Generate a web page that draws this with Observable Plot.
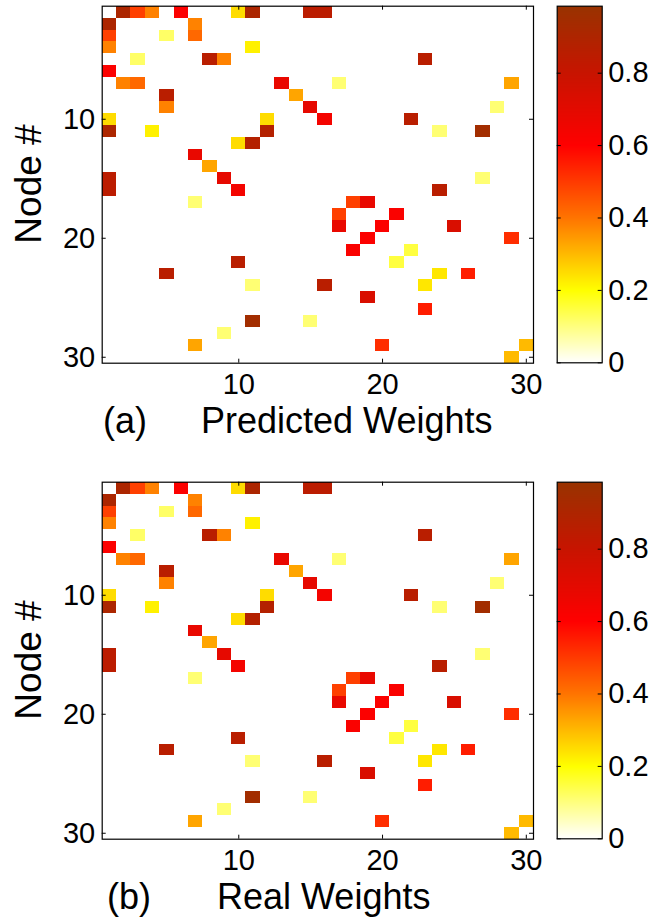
<!DOCTYPE html>
<html>
<head>
<meta charset="utf-8">
<script src="https://cdn.jsdelivr.net/npm/d3@7"></script>
<script src="https://cdn.jsdelivr.net/npm/@observablehq/plot@0.6"></script>
<style>
  body { margin: 0; background: #fff; font-family: "Liberation Sans", Arial, Helvetica, sans-serif; }
  #root { position: relative; width: 657px; height: 918px; overflow: hidden; background: #fff; }
  .panel { position: absolute; left: 0; width: 657px; height: 445px; }
  .abs { position: absolute; }
  .lbl { position: absolute; font-size: 36px; line-height: 30px; white-space: nowrap; color: #000; }
  .ylbl { font-size: 37px; }
</style>
</head>
<body>
<div id="root"></div>
<script>
// ---------------- data ----------------
const nodeCount = 30;
// symmetric weight matrix, listed as edges (from < to); each edge fills cell (from,to) and (to,from)
const edgeFrom = [1, 1, 1, 1, 1, 1, 1, 1, 2, 3, 3, 4, 5, 5, 5, 7, 7, 7, 8, 9, 9, 10, 10, 10, 11, 11, 11, 15, 16, 17, 17, 18, 19, 19, 20, 21, 23, 23, 29];
const edgeTo   = [2, 3, 4, 6, 10, 11, 15, 16, 7, 5, 7, 11, 8, 9, 23, 13, 17, 29, 14, 15, 28, 12, 16, 22, 12, 24, 27, 27, 24, 18, 19, 21, 20, 25, 29, 22, 24, 26, 30];
const predictedWeights = [0.91, 0.49, 0.38, 0.61, 0.25, 0.91, 0.85, 0.85, 0.38, 0.12, 0.42, 0.22, 0.86, 0.38, 0.86, 0.68, 0.11, 0.33, 0.33, 0.69, 0.11, 0.25, 0.64, 0.86, 0.88, 0.11, 0.95, 0.11, 0.86, 0.49, 0.68, 0.62, 0.61, 0.74, 0.52, 0.15, 0.235, 0.55, 0.30];
const realWeights      = [0.91, 0.49, 0.38, 0.61, 0.25, 0.91, 0.85, 0.85, 0.38, 0.12, 0.42, 0.22, 0.86, 0.38, 0.86, 0.68, 0.11, 0.33, 0.33, 0.69, 0.11, 0.25, 0.64, 0.86, 0.88, 0.11, 0.95, 0.11, 0.86, 0.49, 0.68, 0.62, 0.61, 0.74, 0.52, 0.15, 0.235, 0.55, 0.30];

const axisTicks = [10, 20, 30];
const axisTickLabels = ["10", "20", "30"];
const cbTicks = [0, 0.2, 0.4, 0.6, 0.8];
const cbTickLabels = ["0", "0.2", "0.4", "0.6", "0.8"];
const cbMax = 0.985;
const cmapStops = [0, 0.2, 0.4, 0.6, 0.8, 0.985];
const cmapColors = ["#ffffff", "#ffff00", "#ff7400", "#ff0000", "#c81400", "#993300"];

const yLabel = "Node #";
const panelLetters = ["(a)", "(b)"];
const panelTitles = ["Predicted Weights", "Real Weights"];

// ---------------- drawing ----------------
const FONT = '"Liberation Sans", Arial, Helvetica, sans-serif';
const colorScale = {type: "linear", domain: cmapStops, range: cmapColors, interpolate: "rgb", clamp: true};

function heatmap(weights) {
  const cells = [];
  edgeFrom.forEach((a, i) => {
    const b = edgeTo[i];
    cells.push({row: a, col: b, w: weights[i]});
    cells.push({row: b, col: a, w: weights[i]});
  });
  const W = 545, H = 410, mL = 101.7, mR = 12, mT = 5.7, mB = 47.3;
  const innerW = W - mL - mR, innerH = H - mT - mB, tick = 4;
  const fmt = d => axisTickLabels[axisTicks.indexOf(d)];
  return Plot.plot({
    width: W, height: H,
    marginLeft: mL, marginRight: mR, marginTop: mT, marginBottom: mB,
    style: {fontFamily: FONT, fontSize: "29px", color: "#000", background: "transparent", overflow: "visible"},
    x: {domain: [0.5, nodeCount + 0.5]},
    y: {domain: [0.5, nodeCount + 0.5], reverse: true},
    color: colorScale,
    marks: [
      Plot.rect(cells, {x1: d => d.col - 0.5, x2: d => d.col + 0.5, y1: d => d.row - 0.5, y2: d => d.row + 0.5, fill: "w", shapeRendering: "crispEdges"}),
      Plot.tickX(axisTicks, {x: d => d, insetTop: innerH - tick, stroke: "#000"}),
      Plot.tickX(axisTicks, {x: d => d, insetBottom: innerH - tick, stroke: "#000"}),
      Plot.tickY(axisTicks, {y: d => d, insetRight: innerW - tick, stroke: "#000"}),
      Plot.tickY(axisTicks, {y: d => d, insetLeft: innerW - tick, stroke: "#000"}),
      Plot.axisX(axisTicks, {anchor: "bottom", tickSize: 0, tickPadding: 10, tickFormat: fmt, label: null, fontSize: 29}),
      Plot.axisY(axisTicks, {anchor: "left", tickSize: 0, tickPadding: 7, tickFormat: fmt, label: null, fontSize: 29}),
      Plot.frame({stroke: "#000", strokeWidth: 1.2})
    ]
  });
}

function colorbar() {
  const W = 117, H = 380, mL = 16.7, mR = 55.3, mT = 5.7, mB = 17.7;
  const innerW = W - mL - mR, tick = 4;
  const fmt = d => cbTickLabels[cbTicks.indexOf(d)];
  return Plot.plot({
    width: W, height: H,
    marginLeft: mL, marginRight: mR, marginTop: mT, marginBottom: mB,
    style: {fontFamily: FONT, fontSize: "29px", color: "#000", background: "transparent", overflow: "visible"},
    x: {domain: [0, 1], axis: null},
    y: {domain: [0, cbMax]},
    color: colorScale,
    marks: [
      Plot.raster({x1: 0, x2: 1, y1: 0, y2: cbMax, fill: (x, y) => y}),
      Plot.tickY(cbTicks, {y: d => d, insetRight: innerW - tick, stroke: "#000"}),
      Plot.tickY(cbTicks, {y: d => d, insetLeft: innerW - tick, stroke: "#000"}),
      Plot.axisY(cbTicks, {anchor: "right", tickSize: 0, tickPadding: 6, tickFormat: fmt, label: null, fontSize: 29}),
      Plot.frame({stroke: "#000", strokeWidth: 1.2})
    ]
  });
}

const root = document.getElementById("root");
const panels = [
  {top: 0, weights: predictedWeights, letterX: 103, titleX: 201, baseline: 433},
  {top: 476, weights: realWeights, letterX: 107, titleX: 217, baseline: 433}
];

// baseline offset inside a 30px line box for 36px Liberation Sans
const asc = (30 - 1.117 * 36) / 2 + 0.905 * 36;

panels.forEach((p, k) => {
  const div = document.createElement("div");
  div.className = "panel";
  div.style.top = p.top + "px";

  const hm = heatmap(p.weights);
  hm.classList.add("abs");
  hm.style.left = "0px"; hm.style.top = "0px";
  div.appendChild(hm);

  const cb = colorbar();
  cb.classList.add("abs");
  cb.style.left = "540px"; cb.style.top = "0px";
  div.appendChild(cb);

  const yl = document.createElement("div");
  yl.className = "lbl ylbl";
  yl.textContent = yLabel;
  yl.style.left = "28.5px";
  yl.style.top = "184px";
  yl.style.transform = "translate(-50%, -50%) rotate(-90deg)";
  div.appendChild(yl);

  const lt = document.createElement("div");
  lt.className = "lbl";
  lt.textContent = panelLetters[k];
  lt.style.left = p.letterX + "px";
  lt.style.top = (p.baseline - asc) + "px";
  div.appendChild(lt);

  const tt = document.createElement("div");
  tt.className = "lbl";
  tt.textContent = panelTitles[k];
  tt.style.left = p.titleX + "px";
  tt.style.top = (p.baseline - asc) + "px";
  div.appendChild(tt);

  root.appendChild(div);
});
</script>
</body>
</html>
